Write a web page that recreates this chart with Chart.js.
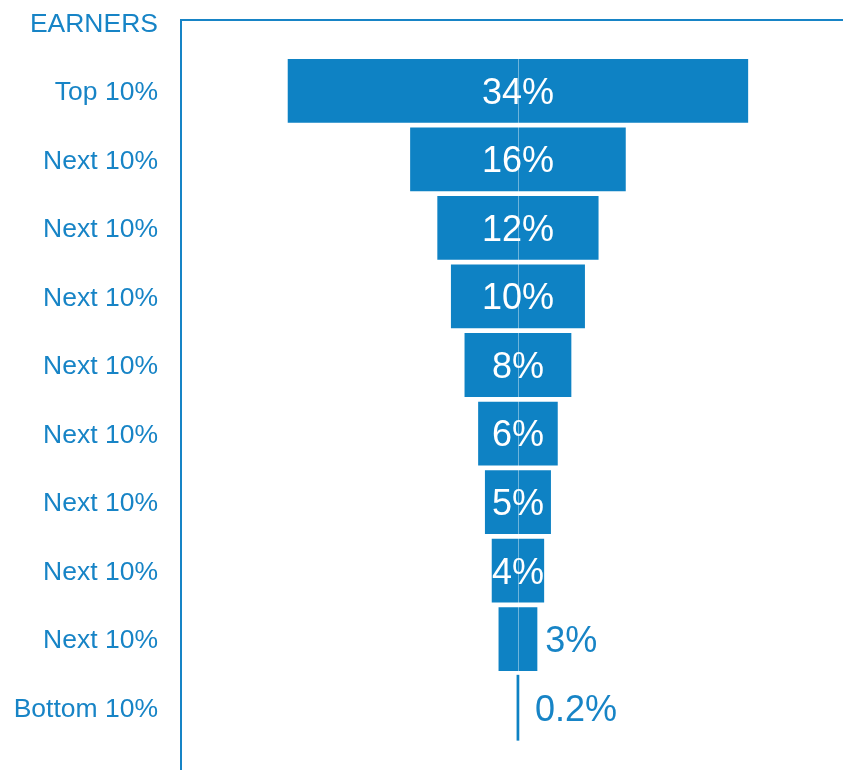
<!DOCTYPE html>
<html>
<head>
<meta charset="utf-8">
<script src="https://cdn.jsdelivr.net/npm/chart.js@4/dist/chart.umd.min.js"></script>
<style>
    html, body { margin: 0; padding: 0; background: #fff; overflow: hidden; }
    #wrap { position: absolute; left: 0; top: -40px; width: 843px; height: 810px; }
</style>
</head>
<body>
<div id="wrap"><canvas id="chartFunnel"></canvas></div>
<script>
var categories = ['EARNERS', 'Top 10%', 'Next 10%', 'Next 10%', 'Next 10%', 'Next 10%',
                  'Next 10%', 'Next 10%', 'Next 10%', 'Next 10%', 'Bottom 10%'];
var shares = [null, 34, 16, 12, 10, 8, 6, 5, 4, 3, 0.2];
var shareLabels = ['', '34%', '16%', '12%', '10%', '8%', '6%', '5%', '4%', '3%', '0.2%'];

(function() {
    'use strict';

    var blue = '#0E82C4';
    var textBlue = '#1784C6';

    // barras centradas en cero
    var spans = shares.map(function(v) { return v == null ? null : [-v / 2, v / 2]; });

    var funnelPlugin = {
        id: 'funnelDecor',
        afterDatasetsDraw: function(chart) {
            var ctx = chart.ctx;
            var area = chart.chartArea;
            var xs = chart.scales.x;
            var ys = chart.scales.y;
            var meta = chart.getDatasetMeta(0);
            var zero = xs.getPixelForValue(0);

            // etiquetas
            ctx.save();
            ctx.font = '36px "Liberation Sans", Arial, sans-serif';
            ctx.textBaseline = 'middle';
            meta.data.forEach(function(bar, i) {
                var txt = shareLabels[i];
                if (!txt || shares[i] == null) return;
                var left = Math.min(bar.x, bar.base);
                var right = Math.max(bar.x, bar.base);
                var tw = ctx.measureText(txt).width;
                if (tw <= right - left + 2) {
                    ctx.fillStyle = '#ffffff';
                    ctx.textAlign = 'center';
                    ctx.fillText(txt, zero, bar.y + 3);
                } else {
                    ctx.fillStyle = textBlue;
                    ctx.textAlign = 'left';
                    ctx.fillText(txt, Math.max(right + 7, zero + 17), bar.y + 3);
                }
            });

            // linea central (no sobre la barra minima)
            var first = meta.data[1], last = meta.data[meta.data.length - 2];
            ctx.strokeStyle = 'rgba(255,255,255,0.4)';
            ctx.lineWidth = 1;
            ctx.beginPath();
            ctx.moveTo(Math.round(zero) + 0.5, first.y - first.height / 2);
            ctx.lineTo(Math.round(zero) + 0.5, last.y + last.height / 2);
            ctx.stroke();

            // marco
            var topY = Math.round(ys.getPixelForValue(0)) - 2;
            var lx = area.left - 1;
            ctx.strokeStyle = textBlue;
            ctx.lineWidth = 2;
            ctx.beginPath();
            ctx.moveTo(chart.width, topY);
            ctx.lineTo(lx, topY);
            ctx.lineTo(lx, chart.height);
            ctx.stroke();
            ctx.restore();
        }
    };

    new Chart(document.getElementById('chartFunnel'), {
        type: 'bar',
        data: {
            labels: categories,
            datasets: [{
                data: spans,
                backgroundColor: blue,
                borderColor: 'rgba(255,255,255,0.3)',
                borderWidth: function(c) {
                    var v = shares[c.dataIndex];
                    return v != null && v < 1 ? 0 : 1;
                },
                borderSkipped: false,
                barPercentage: 0.96,
                categoryPercentage: 1
            }]
        },
        options: {
            indexAxis: 'y',
            responsive: true,
            maintainAspectRatio: false,
            animation: false,
            layout: { padding: { top: 28, bottom: 28, left: 0, right: 0 } },
            plugins: {
                legend: { display: false },
                tooltip: { enabled: false }
            },
            scales: {
                x: {
                    type: 'linear',
                    min: -24.7,
                    max: 23.9,
                    display: false
                },
                y: {
                    grid: { display: false, drawTicks: false },
                    border: { display: false },
                    afterFit: function(s) {
                        s.width = 182;
                        s.paddingTop = 0;
                        s.paddingBottom = 0;
                    },
                    ticks: {
                        color: textBlue,
                        padding: 24,
                        labelOffset: 2,
                        font: { family: '"Liberation Sans", Arial, sans-serif', size: 26.5 }
                    }
                }
            }
        },
        plugins: [funnelPlugin]
    });
})();
</script>
</body>
</html>
